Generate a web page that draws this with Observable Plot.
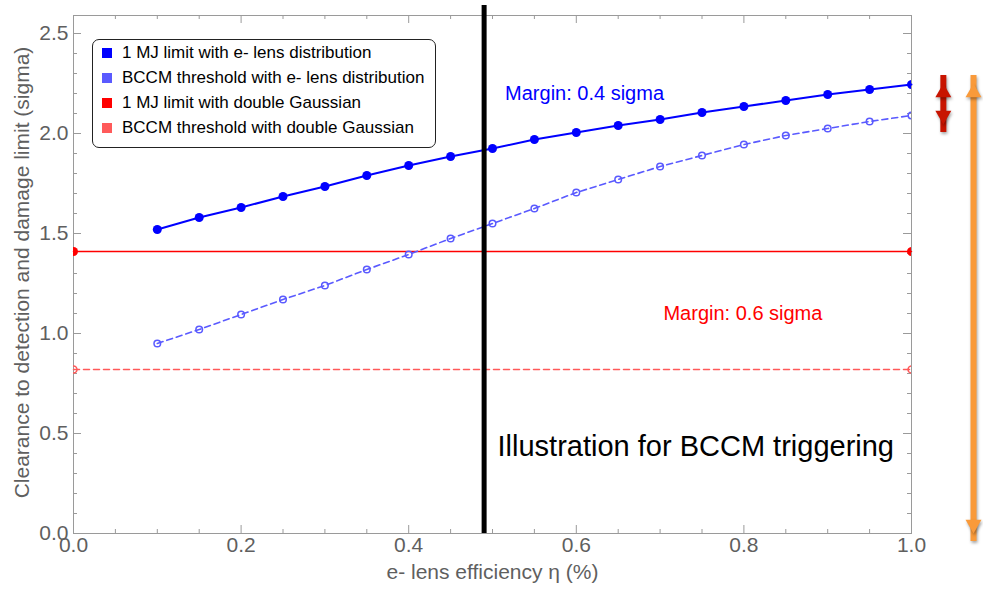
<!DOCTYPE html>
<html>
<head>
<meta charset="utf-8">
<script src="https://cdn.jsdelivr.net/npm/d3@7"></script>
<script src="https://cdn.jsdelivr.net/npm/@observablehq/plot@0.6"></script>
<style>
  body { margin: 0; background: #fff; }
  #chart { position: relative; width: 983px; height: 590px; font-family: "Liberation Sans", Arial, sans-serif; }
  .legend { position: absolute; left: 92px; top: 39px; width: 342px; height: 107px;
            border: 1px solid #222; border-radius: 7px; background: #fff; }
  .legend .item { position: absolute; left: 9px; height: 20px; line-height: 20px;
                  font-size: 17px; color: #000; white-space: nowrap; }
  .legend .swatch { display: inline-block; width: 10px; height: 10px; margin-right: 10px; vertical-align: 0px; }
</style>
</head>
<body>
<div id="chart"></div>
<script>
// e- lens efficiency (x) for the scanned curves
const efficiency = [0.1, 0.15, 0.2, 0.25, 0.3, 0.35, 0.4, 0.45, 0.5, 0.55, 0.6, 0.65, 0.7, 0.75, 0.8, 0.85, 0.9, 0.95, 1.0];
// 1 MJ limit with e- lens distribution (sigma)
const limitElens = [1.52, 1.58, 1.63, 1.685, 1.735, 1.79, 1.84, 1.885, 1.925, 1.97, 2.005, 2.04, 2.07, 2.105, 2.135, 2.165, 2.195, 2.22, 2.245];
// BCCM threshold with e- lens distribution (sigma)
const bccmElens = [0.95, 1.02, 1.095, 1.17, 1.24, 1.32, 1.395, 1.475, 1.55, 1.625, 1.705, 1.77, 1.835, 1.89, 1.945, 1.99, 2.025, 2.06, 2.09];
// double Gaussian reference levels (independent of efficiency)
const gaussEfficiency = [0, 1];
const limitGauss = 1.41;
const bccmGauss = 0.82;
// efficiency used for the BCCM triggering illustration
const triggerEfficiency = [0.49];

const seriesNames = [
  "1 MJ limit with e- lens distribution",
  "BCCM threshold with e- lens distribution",
  "1 MJ limit with double Gaussian",
  "BCCM threshold with double Gaussian"
];
const seriesColors = ["#0000ff", "#5a5aff", "#ff0000", "#ff5a5a"];

const xTicks = [0, 0.2, 0.4, 0.6, 0.8, 1.0];
const xMinorTicks = [0.05, 0.1, 0.15, 0.25, 0.3, 0.35, 0.45, 0.5, 0.55, 0.65, 0.7, 0.75, 0.85, 0.9, 0.95];
const yTicks = [0, 0.5, 1.0, 1.5, 2.0, 2.5];
const yMinorTicks = [0.1, 0.2, 0.3, 0.4, 0.6, 0.7, 0.8, 0.9, 1.1, 1.2, 1.3, 1.4, 1.6, 1.7, 1.8, 1.9, 2.1, 2.2, 2.3, 2.4];

// annotations: margin text labels and the two arrows to the right of the frame
const notes = [
  {x: 0.515, y: 2.2, text: "Margin: 0.4 sigma", color: "#0000ff", size: 20},
  {x: 0.704, y: 1.1, text: "Margin: 0.6 sigma", color: "#ff0000", size: 20},
  {x: 0.506, y: 0.435, text: "Illustration for BCCM triggering", color: "#000", size: 29}
];
const marginArrow = [{x: 1.038, top: 2.25, bottom: 2.045}];
const rangeArrow = [{x: 1.074, top: 2.25, bottom: 0.0}];

const limitData = efficiency.map((x, i) => ({x, y: limitElens[i]}));
const bccmData = efficiency.map((x, i) => ({x, y: bccmElens[i]}));
const limitGaussData = gaussEfficiency.map(x => ({x, y: limitGauss}));
const bccmGaussData = gaussEfficiency.map(x => ({x, y: bccmGauss}));

const gray = "#9a9a9a";
const labelGray = "#5f5f5f";
const frameW = 838, frameH = 518;

function arrowMarks(data, color, shaft) {
  const k = 4.62; // triangle half-height parameter (16px wide heads)
  const r = Math.sqrt(3 * Math.sqrt(3) * k * k / Math.PI);
  return [
    Plot.ruleX(data, {x: "x", y1: "bottom", y2: "top", stroke: color, strokeWidth: shaft, insetTop: 8, insetBottom: 8, className: "shadowed"}),
    Plot.dot(data, {x: "x", y: "top", symbol: "triangle", r, fill: color, stroke: "none", dy: 2 * k, className: "shadowed"}),
    Plot.dot(data, {x: "x", y: "bottom", symbol: "triangle", r, fill: color, stroke: "none", rotate: 180, dy: -2 * k, className: "shadowed"})
  ];
}

const plot = Plot.plot({
  width: 983,
  height: 590,
  marginLeft: 73,
  marginRight: 72,
  marginTop: 15,
  marginBottom: 57,
  style: {fontFamily: "'Liberation Sans', Arial, sans-serif", background: "#fff", overflow: "visible"},
  x: {domain: [0, 1]},
  y: {domain: [0, 2.59]},
  marks: [
    // inward ticks on all four sides
    Plot.tickX(xTicks, {x: d => d, stroke: gray, insetTop: frameH - 8}),
    Plot.tickX(xTicks, {x: d => d, stroke: gray, insetBottom: frameH - 8}),
    Plot.tickX(xMinorTicks, {x: d => d, stroke: gray, insetTop: frameH - 4}),
    Plot.tickX(xMinorTicks, {x: d => d, stroke: gray, insetBottom: frameH - 4}),
    Plot.tickY(yTicks, {y: d => d, stroke: gray, insetRight: frameW - 8}),
    Plot.tickY(yTicks, {y: d => d, stroke: gray, insetLeft: frameW - 8}),
    Plot.tickY(yMinorTicks, {y: d => d, stroke: gray, insetRight: frameW - 4}),
    Plot.tickY(yMinorTicks, {y: d => d, stroke: gray, insetLeft: frameW - 4}),
    Plot.frame({stroke: gray}),
    Plot.axisX(xTicks, {tickSize: 0, tickPadding: 4, tickFormat: d3.format(".1f"), fontSize: 21, color: labelGray, label: null}),
    Plot.axisY(yTicks, {tickSize: 0, tickPadding: 5, tickFormat: d3.format(".1f"), fontSize: 21, color: labelGray, label: null}),
    Plot.text(["e- lens efficiency η (%)"], {frameAnchor: "bottom", dy: 45, fontSize: 21, fill: labelGray}),
    Plot.text(["Clearance to detection and damage limit (sigma)"], {frameAnchor: "left", dx: -51, dy: -2, rotate: -90, textAnchor: "middle", fontSize: 21, fill: labelGray}),

    // double Gaussian reference levels
    Plot.line(limitGaussData, {x: "x", y: "y", stroke: seriesColors[2], strokeWidth: 1.5}),
    Plot.dot(limitGaussData, {x: "x", y: "y", r: 4.5, fill: seriesColors[2], clip: true}),
    Plot.line(bccmGaussData, {x: "x", y: "y", stroke: seriesColors[3], strokeWidth: 1.5, strokeDasharray: "6,4"}),
    Plot.dot(bccmGaussData, {x: "x", y: "y", r: 3.5, fill: "none", stroke: seriesColors[3], strokeWidth: 1.5, clip: true}),

    // e- lens distribution curves
    Plot.line(bccmData, {x: "x", y: "y", stroke: seriesColors[1], strokeWidth: 1.6, strokeDasharray: "6,4"}),
    Plot.dot(bccmData, {x: "x", y: "y", r: 3.3, fill: "none", stroke: seriesColors[1], strokeWidth: 1.5, clip: true}),
    Plot.line(limitData, {x: "x", y: "y", stroke: seriesColors[0], strokeWidth: 2}),
    Plot.dot(limitData, {x: "x", y: "y", r: 4.5, fill: seriesColors[0], clip: true}),

    // BCCM triggering efficiency
    Plot.ruleX(triggerEfficiency, {x: d => d, stroke: "#000", strokeWidth: 5, insetTop: -10}),

    Plot.text(notes, {x: "x", y: "y", text: "text", fill: "color", fontSize: "size", textAnchor: "start"}),

    ...arrowMarks(marginArrow, "#c81400", 6),
    ...arrowMarks(rangeArrow, "#f99a3a", 6)
  ]
});

const chart = document.getElementById("chart");
chart.appendChild(plot);
d3.select(plot).selectAll(".shadowed").style("filter", "drop-shadow(1px 2px 1.5px rgba(0,0,0,0.35))");

// legend box inside the frame
const legend = document.createElement("div");
legend.className = "legend";
seriesNames.forEach((name, i) => {
  const item = document.createElement("div");
  item.className = "item";
  item.style.top = (3 + i * 25) + "px";
  item.innerHTML = `<span class="swatch" style="background:${seriesColors[i]}"></span>`;
  item.appendChild(document.createTextNode(name));
  legend.appendChild(item);
});
chart.appendChild(legend);
</script>
</body>
</html>
